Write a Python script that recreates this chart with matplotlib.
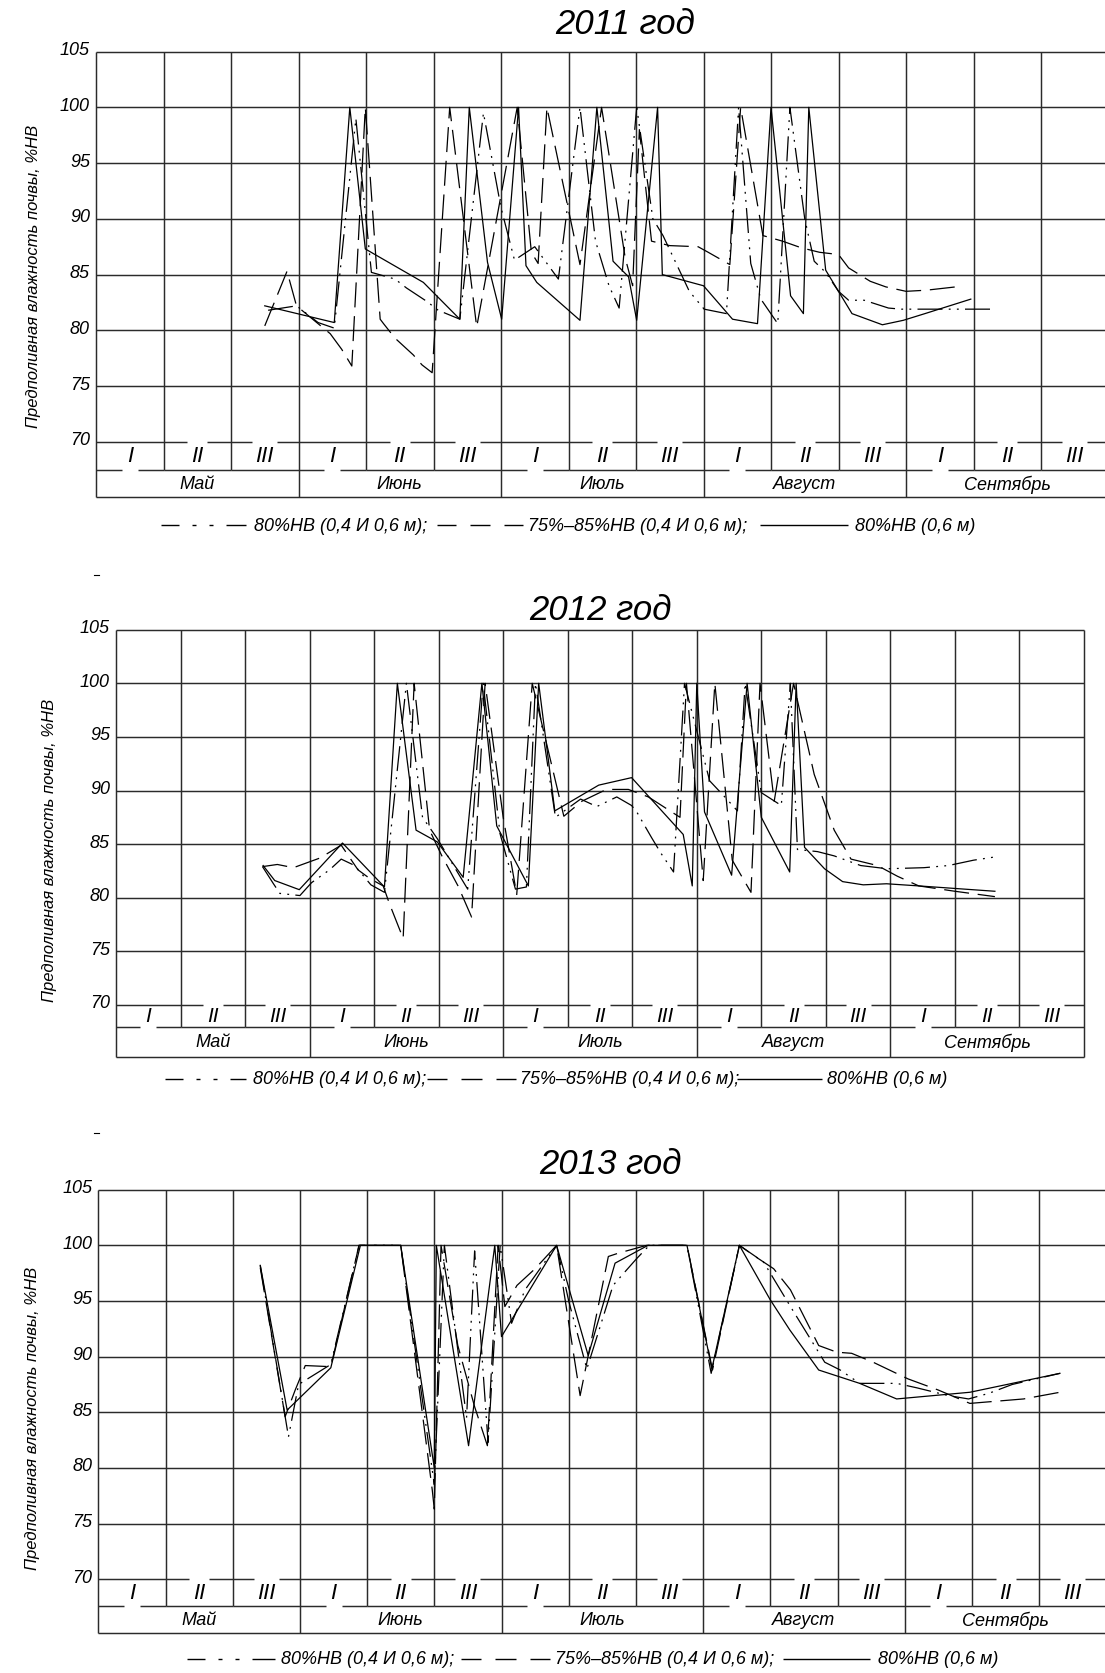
import matplotlib
matplotlib.use("Agg")
import matplotlib.pyplot as plt

W, H = 1105, 1674
FAMILY = ['Liberation Sans Narrow', 'Liberation Sans', 'DejaVu Sans']
plt.rcParams['font.family'] = FAMILY
plt.rcParams['font.style'] = 'italic'

# ---------------- data (x = decade index from start of May, y = %НВ) ----------------
months = ['Май', 'Июнь', 'Июль', 'Август', 'Сентябрь']
decades = ['I', 'II', 'III']
yticks = [70, 75, 80, 85, 90, 95, 100, 105]
titles = ['2011 год', '2012 год', '2013 год']
ylabel = 'Предполивная влажность почвы, %НВ'
legend_labels = ['80%НВ (0,4 И 0,6 м);', '75%–85%НВ (0,4 И 0,6 м);', '80%НВ (0,6 м)']

# 2011
p1_s_x = [2.50, 3.53, 3.76, 3.99, 4.85, 5.39, 5.53, 5.80, 6.01, 6.26, 6.37, 6.53, 7.17, 7.42, 7.66, 7.89,
          8.01, 8.32, 8.39, 9.00, 9.43, 9.80, 10.0, 10.29, 10.48, 10.56, 10.81, 11.20, 11.65, 11.96, 12.28, 12.96]
p1_s_y = [82.2, 80.7, 100, 87.3, 84.3, 81.0, 100, 86.1, 81.0, 100, 85.8, 84.3, 80.9, 100, 86.2, 84.8,
          80.9, 100, 85.0, 84.0, 81.0, 80.6, 100, 83.1, 81.5, 100, 85.4, 81.5, 80.5, 80.9, 81.5, 82.8]
p1_d_x = [2.50, 2.83, 2.97, 3.47, 3.64, 3.79, 3.99, 4.21, 4.26, 4.43, 4.70, 4.83, 4.98, 5.24, 5.64, 6.24,
          6.45, 6.55, 6.68, 7.17, 7.49, 7.84, 7.95, 8.05, 8.23, 8.50, 8.92, 9.07, 9.39, 9.55, 9.88, 10.17,
          10.45, 10.72, 11.00, 11.15, 11.47, 11.70, 12.00, 12.30, 12.74]
p1_d_y = [80.4, 85.3, 82.2, 79.7, 78.3, 76.8, 100, 81.0, 80.6, 79.3, 77.8, 76.9, 76.2, 100, 80.3, 100,
          87.0, 86.0, 100, 85.9, 100, 86.5, 84.0, 98.0, 88.0, 87.6, 87.5, 87.0, 85.9, 100, 88.5, 88.0,
          87.4, 87.0, 86.8, 85.6, 84.4, 83.9, 83.5, 83.6, 83.9]
p1_dd_x = [2.55, 2.97, 3.29, 3.53, 3.85, 4.08, 4.43, 4.60, 4.90, 5.07, 5.39, 5.74, 6.00, 6.20, 6.50, 6.85,
           7.17, 7.40, 7.60, 7.75, 8.01, 8.25, 8.40, 8.79, 9.01, 9.34, 9.52, 9.70, 9.85, 10.10, 10.28,
           10.50, 10.64, 10.81, 11.00, 11.15, 11.38, 11.74, 11.93, 13.27]
p1_dd_y = [81.8, 82.2, 80.7, 80.2, 99.0, 85.2, 84.6, 83.8, 82.6, 81.8, 81.0, 99.5, 91.0, 86.3, 87.5, 84.6,
           100, 88.0, 84.0, 82.0, 100, 90.0, 88.5, 83.5, 81.9, 81.5, 100, 86.0, 82.8, 80.6, 100,
           90.0, 86.2, 85.2, 83.5, 82.7, 82.7, 82.0, 81.9, 81.9]

# 2012
p2_s_x = [2.28, 2.46, 2.84, 3.51, 4.16, 4.36, 4.65, 4.98, 5.38, 5.67, 5.90, 6.39, 6.55, 6.80, 7.48, 7.99,
          8.79, 8.93, 9.00, 9.12, 9.54, 9.78, 10.00, 10.44, 10.54, 10.67, 10.98, 11.26, 11.58, 11.94, 12.44, 13.62]
p2_s_y = [83.0, 81.6, 80.75, 85.1, 81.0, 100, 86.3, 85.2, 81.9, 100, 86.7, 81.1, 100, 88.1, 90.5, 91.2,
          85.9, 81.1, 100, 88.0, 82.1, 100, 87.5, 82.4, 100, 84.7, 82.7, 81.5, 81.2, 81.3, 81.1, 80.6]
p2_d_x = [2.27, 2.50, 2.75, 3.16, 3.49, 3.75, 3.93, 4.14, 4.24, 4.45, 4.62, 4.86, 5.05, 5.30, 5.51, 5.72,
          6.00, 6.21, 6.45, 6.94, 7.22, 7.60, 7.94, 8.25, 8.74, 8.84, 9.10, 9.28, 9.55, 9.84, 9.98, 10.20,
          10.50, 10.82, 11.13, 11.39, 11.80, 12.11, 12.44, 13.00, 13.62]
p2_d_y = [82.9, 83.1, 82.8, 83.7, 84.9, 82.6, 81.8, 81.1, 79.4, 76.2, 100, 86.3, 83.9, 81.1, 78.2, 100,
          87.5, 80.3, 100, 87.6, 89.0, 90.1, 90.1, 89.4, 87.5, 100, 81.6, 100, 83.5, 80.5, 100, 89.0,
          100, 91.5, 86.3, 83.6, 83.0, 82.0, 81.1, 80.6, 80.1]
p2_dd_x = [2.27, 2.44, 2.54, 2.85, 3.03, 3.31, 3.49, 3.70, 3.95, 4.16, 4.50, 4.75, 4.98, 5.33, 5.45, 5.69,
           5.95, 6.19, 6.36, 6.50, 6.81, 7.20, 7.45, 7.76, 7.99, 8.07, 8.30, 8.45, 8.64, 8.81, 9.20, 9.45,
           9.63, 9.75, 10.00, 10.31, 10.45, 10.56, 10.87, 11.13, 11.54, 11.95, 12.52, 12.90, 13.29, 13.62]
p2_dd_y = [82.9, 81.3, 80.4, 80.2, 81.4, 82.6, 83.6, 83.0, 81.2, 80.5, 100, 87.5, 85.5, 82.0, 80.8, 100,
           86.0, 80.8, 81.0, 100, 87.5, 89.2, 88.5, 89.4, 88.6, 88.0, 85.6, 84.1, 82.4, 100, 90.9, 89.3,
           88.1, 100, 89.8, 88.6, 100, 84.5, 84.3, 83.9, 83.0, 82.7, 82.8, 83.0, 83.5, 83.8]

# 2013
p3_s_x = [2.41, 2.81, 3.46, 3.90, 4.50, 5.00, 5.03, 5.51, 5.90, 6.00, 6.82, 7.29, 7.69, 8.18, 8.76, 9.13,
          9.54, 10.00, 10.29, 10.72, 11.33, 11.88, 12.97, 14.31]
p3_s_y = [98.2, 85.2, 89.0, 100, 100, 80.0, 100, 82.0, 100, 91.8, 100, 90.1, 98.4, 100, 100, 88.9,
          100, 95.1, 92.4, 88.8, 87.6, 86.2, 86.8, 88.5]
p3_d_x = [2.41, 2.78, 2.93, 3.08, 3.46, 3.88, 4.50, 4.97, 5.00, 5.10, 5.35, 5.60, 5.79, 5.95, 6.05, 6.23,
          6.50, 6.82, 7.17, 7.59, 7.74, 8.16, 8.76, 9.14, 9.54, 9.75, 10.05, 10.30, 10.72, 10.99, 11.21,
          11.53, 12.05, 12.50, 12.97, 13.37, 13.77, 14.31]
p3_d_y = [98.0, 84.6, 87.0, 89.2, 89.1, 100, 100, 78.0, 76.3, 100, 91.0, 85.5, 82.0, 100, 94.5, 96.4,
          97.9, 100, 86.5, 99.0, 99.3, 100, 100, 88.8, 100, 99.1, 97.9, 96.0, 91.0, 90.4, 90.3,
          89.5, 88.0, 87.0, 85.8, 86.0, 86.2, 86.8]
p3_dd_x = [2.41, 2.83, 2.98, 3.46, 3.88, 4.50, 5.00, 5.15, 5.48, 5.60, 5.80, 5.98, 6.15, 6.35, 6.82, 7.00,
           7.27, 7.66, 7.79, 8.01, 8.20, 8.76, 9.12, 9.54, 9.90, 10.30, 10.81, 11.04, 11.33, 11.88, 12.18,
           12.65, 12.95, 13.25, 13.60, 14.31]
p3_dd_y = [98.2, 82.8, 87.5, 89.3, 100, 100, 78.5, 100, 84.5, 99.5, 82.3, 100, 93.0, 96.0, 100, 95.0,
           88.9, 96.4, 97.3, 98.8, 100, 100, 88.5, 100, 98.5, 94.5, 89.5, 88.8, 87.6, 87.6, 87.2,
           86.5, 86.2, 86.7, 87.5, 88.5]

series = [
    [(p1_dd_x, p1_dd_y), (p1_d_x, p1_d_y), (p1_s_x, p1_s_y)],
    [(p2_dd_x, p2_dd_y), (p2_d_x, p2_d_y), (p2_s_x, p2_s_y)],
    [(p3_dd_x, p3_dd_y), (p3_d_x, p3_d_y), (p3_s_x, p3_s_y)],
]

# ---------------- layout (pixels) ----------------
panels = [
    dict(L=96, col=67.5, T=52.6, pxu=11.15, dec=28, mon=27, num_fs=16,
         tx=625, ty=24, ylx=34, yly=276, legy=526,
         leg=[(161, 246), 254, (437, 523), 528, (760, 848), 855]),
    dict(L=116, col=64.53, T=630.7, pxu=10.72, dec=22, mon=30, num_fs=15,
         tx=600, ty=610, ylx=50, yly=850, legy=1080,
         leg=[(165, 246), 253, (427, 516), 520, (737, 822), 827]),
    dict(L=98.3, col=67.2, T=1190.7, pxu=11.13, dec=27, mon=27, num_fs=16,
         tx=610, ty=1164, ylx=33, yly=1418, legy=1660,
         leg=[(187, 275), 281, (461, 550), 555, (783, 870), 878]),
]

GRID = '#2b2b2b'
GLW = 1.05
DLW = 0.9
STY_DD = (0, (20, 5, 1.5, 5, 1.5, 5))
STY_D = (0, (20, 7))

fig = plt.figure(figsize=(W / 100, H / 100), dpi=100)
fig.patch.set_facecolor('white')

for p, ser, title in zip(panels, series, titles):
    L, col, T, pxu = p['L'], p['col'], p['T'], p['pxu']
    y70 = T + 35 * pxu
    B = y70 + p['dec'] + p['mon']
    R = L + 15 * col
    yd = 70 - p['dec'] / pxu
    yb = 70 - (p['dec'] + p['mon']) / pxu
    ax = fig.add_axes([L / W, 1 - B / H, (R - L) / W, (B - T) / H])
    ax.set_xlim(0, 15)
    ax.set_ylim(yb, 105)
    ax.axis('off')

    gk = dict(color=GRID, lw=GLW, clip_on=False, solid_capstyle='butt')
    for v in range(75, 106, 5):
        ax.plot([0, 15], [v, v], **gk)
    for k in range(16):
        if k % 3 == 0:
            ax.plot([k, k], [yb, 105], **gk)
        else:
            ax.plot([k, k], [yd, 105], **gk)
    ax.plot([0, 15], [yb, yb], **gk)
    for k in range(15):
        c = k + 0.5
        r = k % 3
        if r == 0:
            ax.plot([k, k + 1], [70, 70], **gk)
            g = 16 / col / 2
            ax.plot([k, c - g], [yd, yd], **gk)
            ax.plot([c + g, k + 1], [yd, yd], **gk)
        else:
            g = (20 if r == 1 else 25) / col / 2
            ax.plot([k, c - g], [70, 70], **gk)
            ax.plot([c + g, k + 1], [70, 70], **gk)
            ax.plot([k, k + 1], [yd, yd], **gk)
        ax.text(c, (70 + yd) / 2, decades[r], ha='center', va='center',
                fontsize=p['num_fs'], style='italic')
    for m, name in enumerate(months):
        ax.text(3 * m + 1.5, (yd + yb) / 2, name, ha='center', va='center',
                fontsize=13, style='italic')
    for v in yticks:
        ax.text(-6 / col, v + 2 / pxu, str(v), ha='right', va='center',
                fontsize=13, style='italic', clip_on=False)

    (ddx, ddy), (dx, dy), (sx, sy) = ser
    ax.plot(ddx, ddy, color='black', lw=DLW, ls=STY_DD)
    ax.plot(dx, dy, color='black', lw=DLW, ls=STY_D)
    ax.plot(sx, sy, color='black', lw=DLW, ls='-')

ov = fig.add_axes([0, 0, 1, 1])
ov.set_xlim(0, W)
ov.set_ylim(H, 0)
ov.axis('off')
ov.patch.set_alpha(0)

for p, title in zip(panels, titles):
    ov.text(p['tx'], p['ty'], title, ha='center', va='center', fontsize=25,
            style='italic', bbox=dict(facecolor='white', edgecolor='none', pad=1.0))
    ov.text(p['ylx'], p['yly'], ylabel, rotation=90, ha='center', va='center',
            fontsize=12, style='italic')
    ly = p['legy']
    (a0, a1), t1, (b0, b1), t2, (c0, c1), t3 = p['leg']
    lk = dict(color='black', lw=1.0, solid_capstyle='butt')
    ov.plot([a0, a0 + 18], [ly, ly], **lk)
    ov.plot([a0 + 31, a0 + 35], [ly, ly], **lk)
    ov.plot([a0 + 48, a0 + 52], [ly, ly], **lk)
    ov.plot([a0 + 65, a1], [ly, ly], **lk)
    seg = (b1 - b0 - 2 * 14) / 3
    for i in range(3):
        s0 = b0 + i * (seg + 14)
        ov.plot([s0, s0 + seg], [ly, ly], **lk)
    ov.plot([c0, c1], [ly, ly], **lk)
    for tx, lab in zip([t1, t2, t3], legend_labels):
        ov.text(tx, ly, lab, ha='left', va='center', fontsize=13, style='italic')

ov.plot([94, 99], [576, 576], color='black', lw=0.8)
ov.plot([94, 99], [1134, 1134], color='black', lw=0.8)

fig.savefig('out.png', dpi=100, facecolor='white')
